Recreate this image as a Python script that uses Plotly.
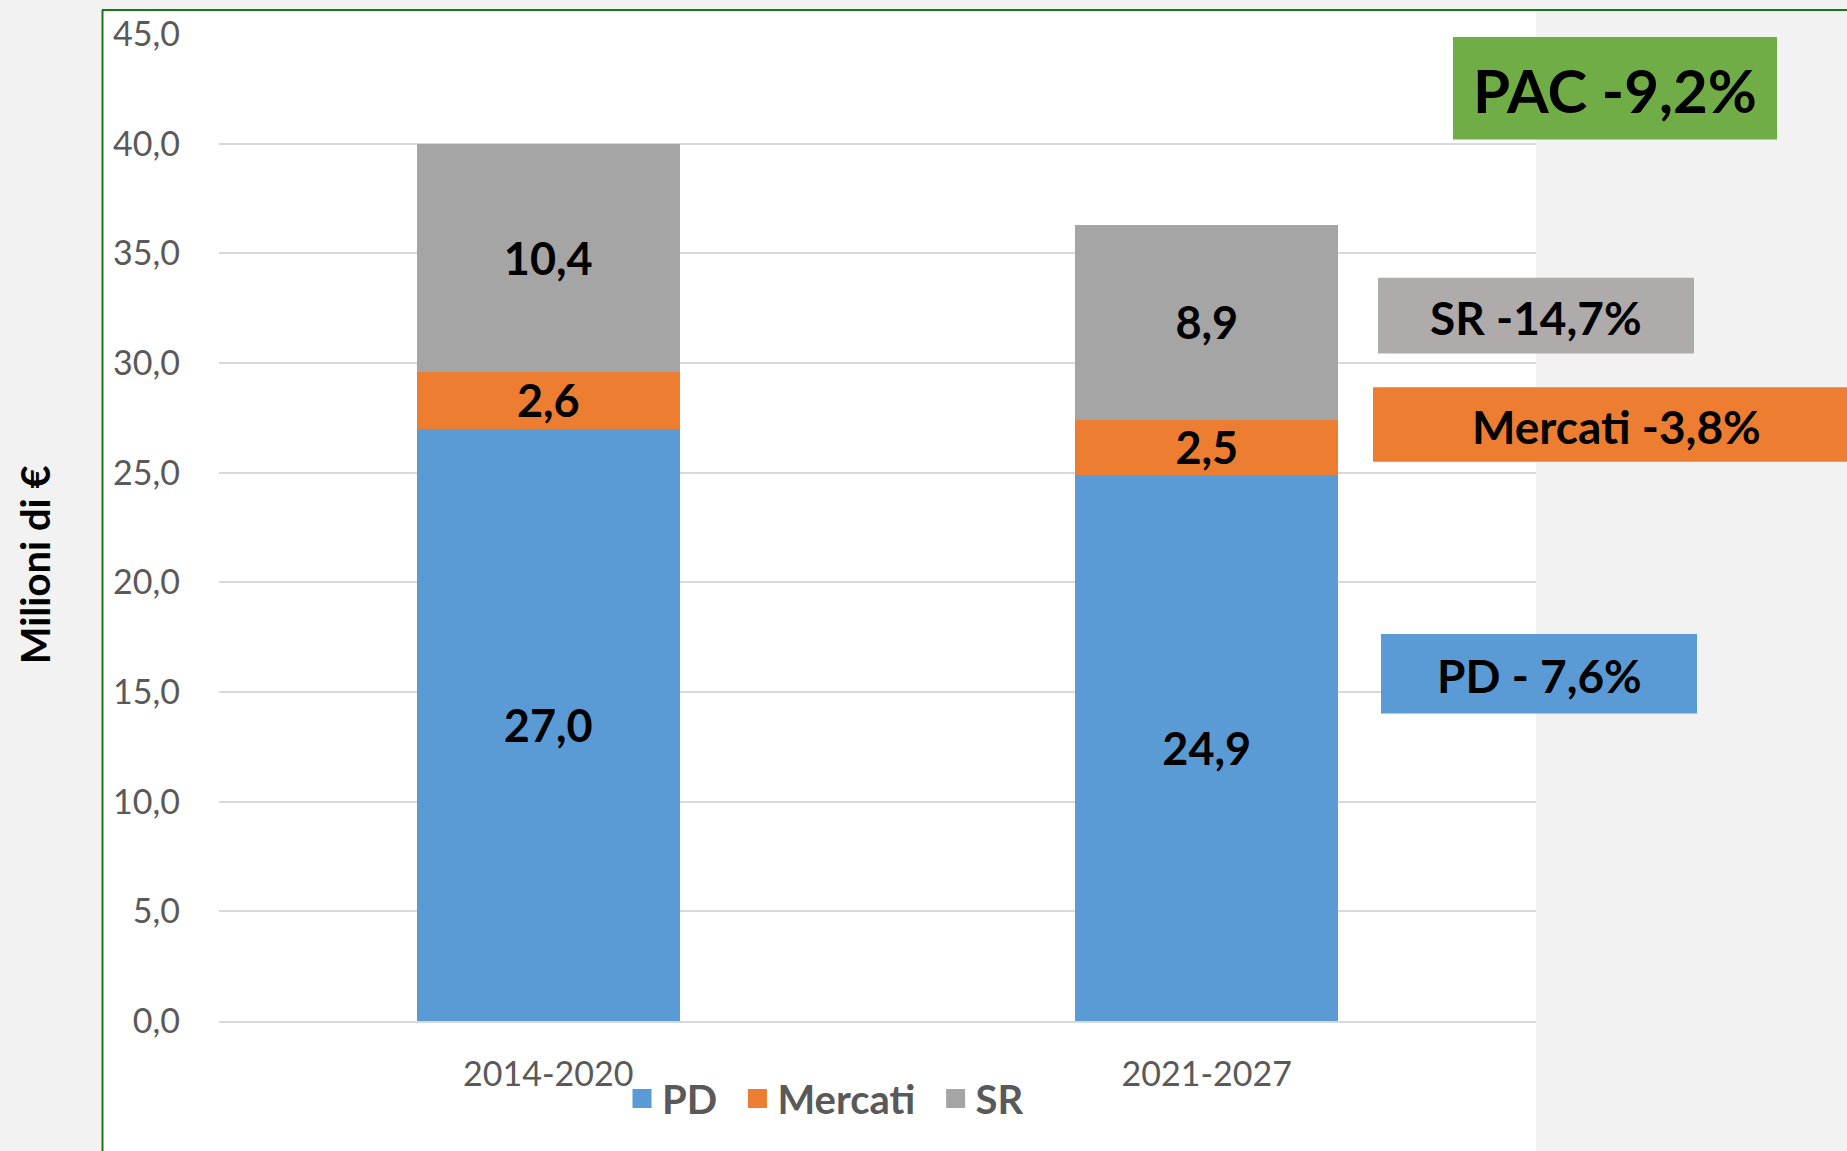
import plotly.graph_objects as go

# ---- data ----
periods = ["2014-2020", "2021-2027"]
pd_values = [27.0, 24.9]
mercati_values = [2.6, 2.5]
sr_values = [10.4, 8.9]
series_names = ["PD", "Mercati", "SR"]
series_colors = ["#5B9BD5", "#ED7D31", "#A5A5A5"]
y_ticks = [0, 5, 10, 15, 20, 25, 30, 35, 40, 45]
box_labels = ["PAC -9,2%", "SR -14,7%", "Mercati -3,8%", "PD - 7,6%"]
box_colors = ["#70AD47", "#AFABAB", "#ED7D31", "#5B9BD5"]
y_title = "Milioni di €"

W, H = 1847, 1151
L, R, T, B = 219, 1536, 29, 1021  # plot area in pixels


def fx(px):
    return (px - L) / (R - L)


def fy(py):
    return (B - py) / (B - T)


fig = go.Figure()
for name, vals, col in zip(series_names, [pd_values, mercati_values, sr_values], series_colors):
    fig.add_trace(go.Bar(
        x=periods, y=vals, name=name, marker=dict(color=col, line=dict(width=0)),
        texttemplate="%{y:.1f}", textposition="inside", insidetextanchor="middle",
        constraintext="none",
        textfont=dict(family="Lato", size=45, color="black", weight="bold"),
        showlegend=False,
    ))
# legend entries
for name, col in zip(series_names, series_colors):
    fig.add_trace(go.Scatter(
        x=[None], y=[None], mode="markers", name="<b>" + name + "</b>" + "\u00a0\u2009",
        marker=dict(symbol="square", size=16, color=col, line=dict(color=col, width=3)),
    ))

shapes = []
# white chart area & green frame
shapes.append(dict(type="rect", xref="paper", yref="paper", x0=fx(103), x1=fx(R), y0=fy(H + 10), y1=fy(6),
                   fillcolor="white", line=dict(width=0), layer="below"))
shapes.append(dict(type="line", xref="paper", yref="paper", x0=fx(102.5), x1=fx(102.5), y0=fy(5), y1=fy(H + 10),
                   line=dict(color="#157A15", width=2)))
shapes.append(dict(type="line", xref="paper", yref="paper", x0=fx(102), x1=fx(W + 10), y0=fy(5), y1=fy(5),
                   line=dict(color="#157A15", width=2)))

boxes = [
    (1453, 1777, 32, 135),
    (1378, 1694, 274, 350),
    (1373, 1859, 384, 459),
    (1381, 1697, 632, 712),
]
sizes = [60, 46, 46, 46]
annotations = []
for (x0, x1, y0, y1), lab, col, sz in zip(boxes, box_labels, box_colors, sizes):
    shapes.append(dict(type="rect", xref="paper", yref="paper", x0=fx(x0), x1=fx(x1), y0=fy(y1), y1=fy(y0),
                       fillcolor=col, line=dict(width=0), layer="above"))
    cx = (x0 + x1) / 2 if x1 < W else 1616
    annotations.append(dict(xref="paper", yref="paper", x=fx(cx), y=fy((y0 + y1) / 2 + 2), text="<b>" + lab + "</b>",
                            showarrow=False, xanchor="center", yanchor="middle",
                            font=dict(family="Lato", size=sz, color="black")))

annotations.append(dict(xref="paper", yref="paper", x=fx(35), y=fy(563), text="<b>" + y_title + "</b>",
                        textangle=-90, showarrow=False, xanchor="center", yanchor="middle",
                        font=dict(family="Lato", size=40, color="black")))

fig.update_layout(
    width=W, height=H,
    margin=dict(l=L, r=W - R, t=T, b=H - B, pad=0),
    paper_bgcolor="#F2F2F2", plot_bgcolor="rgba(0,0,0,0)",
    barmode="stack", bargap=0.6,
    separators=",.",
    font=dict(family="Lato", color="#595959"),
    shapes=shapes, annotations=annotations,
    showlegend=True,
    legend=dict(orientation="h", x=fx(622), xanchor="left", y=fy(1099), yanchor="middle",
                traceorder="normal",
                font=dict(family="Lato", size=40, color="#595959"),
                bgcolor="rgba(0,0,0,0)", itemsizing="trace"),
    xaxis=dict(showgrid=False, showline=True, linecolor="#D9D9D9", linewidth=2,
               tickfont=dict(family="Lato", size=34, color="#595959"), ticks="",
               ticklabelstandoff=22, range=[-0.5, 1.5]),
    yaxis=dict(range=[0, 45], tickvals=y_ticks, tickformat=".1f", showgrid=True,
               gridcolor="#D9D9D9", gridwidth=2, zeroline=False, showline=False,
               tickfont=dict(family="Lato", size=34, color="#595959"), ticks="",
               ticklabelstandoff=38),
)

fig.write_html("out.html", config={"displayModeBar": False},
               post_script="document.body.style.margin='0px';")
